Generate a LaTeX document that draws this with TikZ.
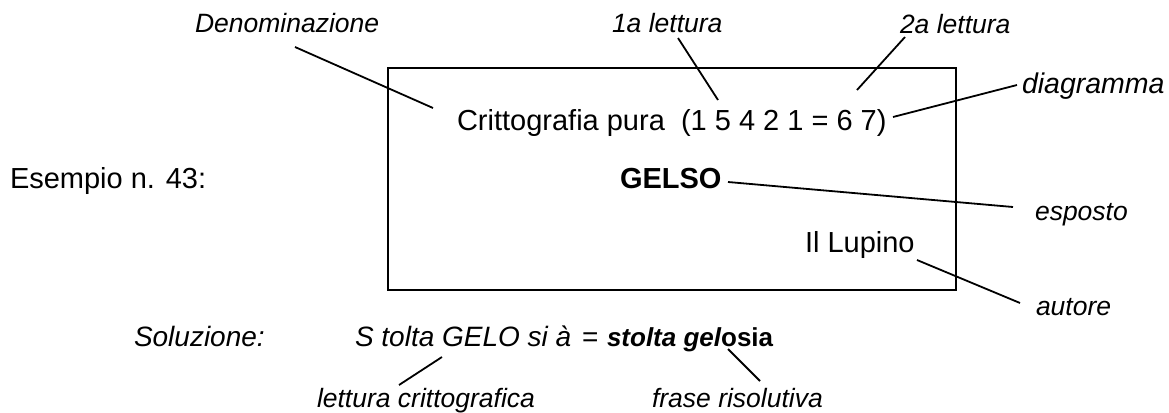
\documentclass[tikz,border=0pt]{standalone}
\usepackage{fontspec}
\setmainfont{Liberation Sans}
\begin{document}
\begin{tikzpicture}[x=1pt,y=-1pt,
  txt/.style={anchor=base west,inner sep=0pt,outer sep=0pt},
  lab/.style={txt,font=\fontsize{26.5}{30}\selectfont\itshape},
  main/.style={txt,font=\fontsize{29}{34}\selectfont},
  conn/.style={line width=1.8pt},
  boxline/.style={line width=2.5pt}]
\useasboundingbox (0,0) rectangle (1169,412);
% frame
\draw[boxline] (388,68) rectangle (956,290);
% main texts
\node[main] (crit) at (457,130) {Crittografia pura\ \ (1 5 4 2 1 = 6 7)};
\node[main] (es) at (10,188) {Esempio n. 43:};
\node[main,font=\fontsize{29}{34}\selectfont\bfseries] (gelso) at (620,188) {GELSO};
\node[main] (lup) at (805,252) {Il Lupino};
% labels
\node[lab] (den) at (195,33) {Denominazione};
\node[lab] (l1) at (612,33) {1a lettura};
\node[lab] (l2) at (900,34) {2a lettura};
\node[lab,font=\fontsize{28.5}{32}\selectfont\itshape] (diag) at (1022,93) {diagramma};
\node[lab] (esp) at (1035,220) {esposto};
\node[lab] (aut) at (1036,315) {autore};
\node[lab] (lc) at (317,407) {lettura crittografica};
\node[lab] (fr) at (652,407) {frase risolutiva};
% solution line
\node[txt,font=\fontsize{28}{32}\selectfont\itshape] (sol) at (134,346) {Soluzione:};
\node[txt,font=\fontsize{28}{32}\selectfont\itshape] (crypt) at (355,346) {S tolta GELO si à};
\node[txt,font=\fontsize{28}{32}\selectfont] (eq) at (582,346) {=};
\node[txt,font=\fontsize{26}{30}\selectfont\bfseries] (phr) at (607,346) {\itshape stolta gel\upshape osia};
% connector end points
\coordinate (denE) at (295,47);   \coordinate (critA) at (433,108);
\coordinate (l1E) at (678,38);    \coordinate (critB) at (718,100);
\coordinate (l2E) at (905,37);    \coordinate (critC) at (857,90);
\coordinate (critD) at (893,117); \coordinate (diagE) at (1017,85);
\coordinate (gelsoE) at (728,182); \coordinate (espE) at (1013,207);
\coordinate (lupE) at (917,260);  \coordinate (autE) at (1020,303);
\coordinate (cryptE) at (442,357); \coordinate (lcE) at (399,385);
\coordinate (phrE) at (728,349);  \coordinate (frE) at (760,381);
% connectors
\draw[conn] (denE) -- (critA);
\draw[conn] (l1E) -- (critB);
\draw[conn] (l2E) -- (critC);
\draw[conn] (critD) -- (diagE);
\draw[conn] (gelsoE) -- (espE);
\draw[conn] (lupE) -- (autE);
\draw[conn] (cryptE) -- (lcE);
\draw[conn] (phrE) -- (frE);
\end{tikzpicture}
\end{document}
